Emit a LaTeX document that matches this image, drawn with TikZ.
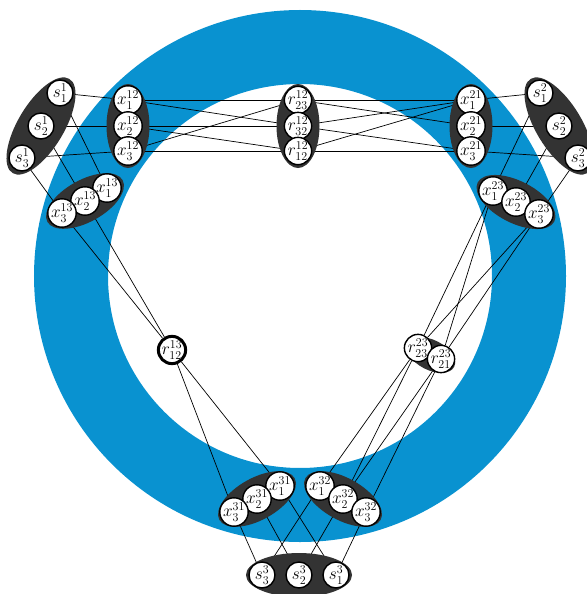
\documentclass[tikz,border=0pt]{standalone}
\usepackage{tikz}
\usetikzlibrary{shapes.geometric}
\definecolor{ringblue}{RGB}{9,146,208}
\definecolor{grpgray}{RGB}{51,51,51}
\pgfdeclarelayer{ring}
\pgfdeclarelayer{edges}
\pgfdeclarelayer{groups}
\pgfsetlayers{ring,edges,groups,main}

\begin{document}
\begin{tikzpicture}[x=1pt, y=-1pt,
  font=\LARGE,
  val/.style={circle, draw=black, line width=1.4pt, fill=white, minimum size=26pt, inner sep=0pt},
  rnd/.style={circle, draw=black, line width=3pt, fill=white, minimum size=25pt, inner sep=0pt},
  grp/.style={ellipse, fill=grpgray, inner sep=0pt},
  ln/.style={line width=0.7pt}
]
\useasboundingbox (0,0) rectangle (586,594);
\begin{pgfonlayer}{ring}
\draw[ringblue, line width=74pt] (300,276) circle (229);
\end{pgfonlayer}

% party 1
\node[val] (sa1) at (60,93) {$s^1_1$};
\node[val] (sa2) at (41,126) {$s^1_2$};
\node[val] (sa3) at (22,158) {$s^1_3$};
\node[val] (x12a) at (128,100) {$x^{12}_1$};
\node[val] (x12b) at (128,126) {$x^{12}_2$};
\node[val] (x12c) at (128,151) {$x^{12}_3$};
\node[val] (x13a) at (107,188) {$x^{13}_1$};
\node[val] (x13b) at (85,201) {$x^{13}_2$};
\node[val] (x13c) at (62,213) {$x^{13}_3$};
% party 2
\node[val] (sb1) at (540,93) {$s^2_1$};
\node[val] (sb2) at (559,126) {$s^2_2$};
\node[val] (sb3) at (578,158) {$s^2_3$};
\node[val] (x21a) at (471,100) {$x^{21}_1$};
\node[val] (x21b) at (471,126) {$x^{21}_2$};
\node[val] (x21c) at (471,151) {$x^{21}_3$};
\node[val] (x23a) at (493,191) {$x^{23}_1$};
\node[val] (x23b) at (516,202) {$x^{23}_2$};
\node[val] (x23c) at (539,214) {$x^{23}_3$};
% party 3
\node[val] (sc3) at (262,575) {$s^3_3$};
\node[val] (sc2) at (299,575) {$s^3_2$};
\node[val] (sc1) at (336,575) {$s^3_1$};
\node[val] (x31a) at (280,486) {$x^{31}_1$};
\node[val] (x31b) at (257,499) {$x^{31}_2$};
\node[val] (x31c) at (234,512) {$x^{31}_3$};
\node[val] (x32a) at (320,486) {$x^{32}_1$};
\node[val] (x32b) at (343,499) {$x^{32}_2$};
\node[val] (x32c) at (366,512) {$x^{32}_3$};
% randomness
\node[val] (r12a) at (298,100) {$r^{12}_{23}$};
\node[val] (r12b) at (298,126) {$r^{12}_{32}$};
\node[val] (r12c) at (298,151) {$r^{12}_{12}$};
\node[rnd] (r13) at (172,350) {$r^{13}_{12}$};
\node[val] (r23a) at (418,348) {$r^{23}_{23}$};
\node[val] (r23b) at (441,359) {$r^{23}_{21}$};

\begin{pgfonlayer}{groups}
\node[grp, minimum width=110pt, minimum height=46pt, rotate=59] (gsa) at (41,126) {};
\node[grp, minimum width=110pt, minimum height=46pt, rotate=-59] (gsb) at (559,126) {};
\node[grp, minimum width=106pt, minimum height=44pt] (gsc) at (299,575) {};
\node[grp, minimum width=43pt, minimum height=84pt] (g12) at (128,126) {};
\node[grp, minimum width=43pt, minimum height=84pt] (g21) at (471,126) {};
\node[grp, minimum width=43pt, minimum height=84pt] (gr12) at (298,126) {};
\node[grp, minimum width=86pt, minimum height=42pt, rotate=29] (g13) at (85,201) {};
\node[grp, minimum width=86pt, minimum height=42pt, rotate=-27] (g23) at (516,202) {};
\node[grp, minimum width=86pt, minimum height=42pt, rotate=29] (g31) at (257,499) {};
\node[grp, minimum width=86pt, minimum height=42pt, rotate=-29] (g32) at (343,499) {};
\node[grp, minimum width=52pt, minimum height=30pt, rotate=-27] (gr23) at (431,355) {};
\end{pgfonlayer}

\begin{pgfonlayer}{edges}
\foreach \a/\b in {sa1/x12a, sa2/x12b, sa3/x12c, sa1/x13a, sa2/x13b, sa3/x13c,
  x12a/r12a, x12a/r12b, x12b/r12b, x12b/r12c, x12c/r12a, x12c/r12c,
  r12a/x21a, r12a/x21b, r12b/x21a, r12b/x21c, r12c/x21a, r12c/x21c,
  x21a/sb1, x21b/sb2, x21c/sb3, sb1/x23a, sb2/x23b, sb3/x23c,
  x13b/r13, x13c/r13, r13/x31a, r13/x31c,
  x23a/r23a, x23a/r23b, x23c/r23a, x23c/r23b,
  r23a/x32a, r23a/x32b, r23b/x32b, r23b/x32c,
  x31a/sc1, x31b/sc2, x31c/sc3, x32a/sc3, x32b/sc2, x32c/sc1}
  \draw[ln] (\a) -- (\b);
\end{pgfonlayer}
\end{tikzpicture}
\end{document}
